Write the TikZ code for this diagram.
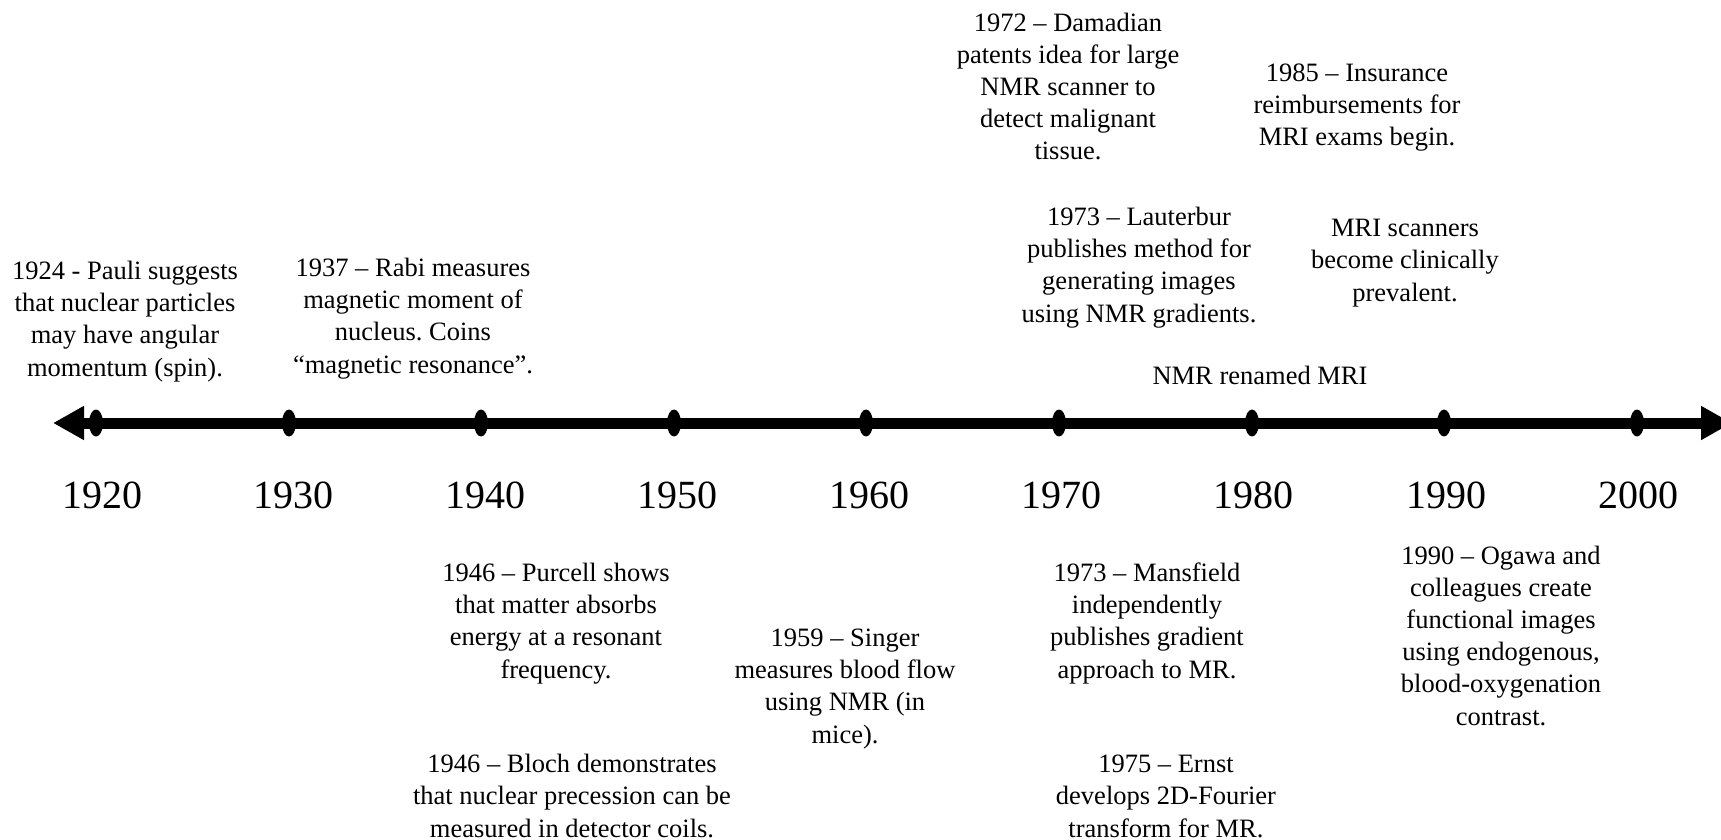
\documentclass[tikz,border=0pt]{standalone}
\usepackage{fontspec}
\setmainfont{Liberation Serif}
\usetikzlibrary{arrows.meta,shapes.geometric}
\frenchspacing

\tikzset{
    event/.style={align=center, anchor=base, inner sep=0pt, font=\fontsize{13.25}{16.1}\selectfont},
    yearlabel/.style={anchor=base, inner sep=0pt, font=\fontsize{20}{24}\selectfont},
    yeardot/.style={ellipse, fill=black, inner sep=0pt, minimum width=7pt, minimum height=13.5pt},
    timeline/.style={line width=5.5pt, {Triangle[length=15.5pt,width=16pt]}-{Triangle[length=15.5pt,width=16pt]}}
}

\begin{document}
\begin{tikzpicture}[x=0.5pt,y=-0.5pt]
            \useasboundingbox (0,0) rectangle (1721,840);

            % time axis
            \coordinate (L) at (53,423);
            \coordinate (R) at (1732,423);
            \draw[timeline] (L) -- (R);

            \node[yeardot] (D1) at (96,423) {};
            \node[yeardot] (D2) at (289,423) {};
            \node[yeardot] (D3) at (481,423) {};
            \node[yeardot] (D4) at (674,423) {};
            \node[yeardot] (D5) at (866,423) {};
            \node[yeardot] (D6) at (1059,423) {};
            \node[yeardot] (D7) at (1252,423) {};
            \node[yeardot] (D8) at (1444,423) {};
            \node[yeardot] (D9) at (1637,423) {};

            \node[yearlabel] (Y1) at (102,508) {1920};
            \node[yearlabel] (Y2) at (293,508) {1930};
            \node[yearlabel] (Y3) at (485,508) {1940};
            \node[yearlabel] (Y4) at (677,508) {1950};
            \node[yearlabel] (Y5) at (869,508) {1960};
            \node[yearlabel] (Y6) at (1061,508) {1970};
            \node[yearlabel] (Y7) at (1253,508) {1980};
            \node[yearlabel] (Y8) at (1446,508) {1990};
            \node[yearlabel] (Y9) at (1638,508) {2000};

            % events above the axis (base = last line)
            \node[event] (Pauli) at (125,376) {1924 - Pauli suggests\\that nuclear particles\\may have angular\\momentum (spin).};
            \node[event] (Rabi) at (413,373) {1937 – Rabi measures\\magnetic moment of\\nucleus. Coins\\“magnetic resonance”.};
            \node[event] (Damadian) at (1068,160) {1972 – Damadian\\patents idea for large\\NMR scanner to\\detect malignant\\tissue.};
            \node[event] (Insurance) at (1357,146) {1985 – Insurance\\reimbursements for\\MRI exams begin.};
            \node[event] (Lauterbur) at (1139,322) {1973 – Lauterbur\\publishes method for\\generating images\\using NMR gradients.};
            \node[event] (Clinical) at (1405,301) {MRI scanners\\become clinically\\prevalent.};
            \node[event] (Renamed) at (1260,384) {NMR renamed MRI};

            % events below the axis
            \node[event] (Purcell) at (556,678) {1946 – Purcell shows\\that matter absorbs\\energy at a resonant\\frequency.};
            \node[event] (Singer) at (845,743) {1959 – Singer\\measures blood flow\\using NMR (in\\mice).};
            \node[event] (Bloch) at (572,837) {1946 – Bloch demonstrates\\that nuclear precession can be\\measured in detector coils.};
            \node[event] (Mansfield) at (1147,678) {1973 – Mansfield\\independently\\publishes gradient\\approach to MR.};
            \node[event] (Ernst) at (1166,837) {1975 – Ernst\\develops 2D-Fourier\\transform for MR.};
            \node[event] (Ogawa) at (1501,725) {1990 – Ogawa and\\colleagues create\\functional images\\using endogenous,\\blood-oxygenation\\contrast.};
\end{tikzpicture}
\end{document}
